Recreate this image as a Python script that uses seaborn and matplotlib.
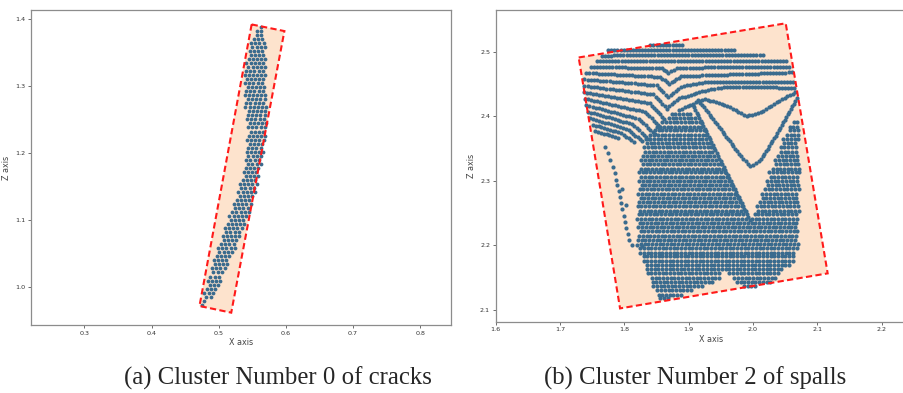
import numpy as np
import pandas as pd
import seaborn as sns
import matplotlib.pyplot as plt
from matplotlib.patches import Polygon

# ---------------- data ----------------

# crack cluster 0: scan rows as (z, x from, x to)
crack_rows = [
    (0.974, 0.475, 0.481), (0.980, 0.476, 0.484), (0.986, 0.477, 0.490), (0.992, 0.478, 0.494),
    (0.998, 0.479, 0.498), (1.004, 0.481, 0.500), (1.010, 0.482, 0.503), (1.016, 0.484, 0.506),
    (1.022, 0.486, 0.508), (1.028, 0.488, 0.511), (1.034, 0.490, 0.513), (1.040, 0.492, 0.516),
    (1.046, 0.494, 0.519), (1.052, 0.496, 0.521), (1.058, 0.498, 0.524), (1.064, 0.500, 0.526),
    (1.070, 0.502, 0.529), (1.076, 0.504, 0.531), (1.082, 0.507, 0.534), (1.088, 0.509, 0.536),
    (1.094, 0.511, 0.539), (1.100, 0.513, 0.541), (1.106, 0.515, 0.543), (1.112, 0.517, 0.545),
    (1.118, 0.519, 0.547), (1.124, 0.521, 0.549), (1.130, 0.523, 0.551), (1.136, 0.525, 0.553),
    (1.142, 0.527, 0.555), (1.148, 0.529, 0.557), (1.154, 0.531, 0.558), (1.160, 0.533, 0.560),
    (1.166, 0.535, 0.561), (1.172, 0.536, 0.562), (1.178, 0.537, 0.563), (1.184, 0.538, 0.564),
    (1.190, 0.539, 0.565), (1.196, 0.540, 0.566), (1.202, 0.541, 0.567), (1.208, 0.541, 0.568),
    (1.214, 0.541, 0.569), (1.220, 0.541, 0.570), (1.226, 0.541, 0.571), (1.232, 0.542, 0.572),
    (1.238, 0.542, 0.572), (1.244, 0.542, 0.572), (1.250, 0.542, 0.572), (1.256, 0.541, 0.572),
    (1.262, 0.540, 0.572), (1.268, 0.539, 0.572), (1.274, 0.538, 0.571), (1.280, 0.538, 0.571),
    (1.286, 0.537, 0.571), (1.292, 0.537, 0.571), (1.298, 0.537, 0.571), (1.304, 0.537, 0.570),
    (1.310, 0.537, 0.570), (1.316, 0.538, 0.570), (1.322, 0.538, 0.570), (1.328, 0.539, 0.570),
    (1.334, 0.540, 0.570), (1.340, 0.541, 0.570), (1.346, 0.542, 0.570), (1.352, 0.544, 0.569),
    (1.358, 0.546, 0.569), (1.364, 0.548, 0.568), (1.370, 0.550, 0.568), (1.376, 0.552, 0.567),
    (1.382, 0.556, 0.566), (1.388, 0.560, 0.564),
]
crack_box = [(0.549, 1.3915), (0.5978, 1.3816), (0.5186, 0.9622), (0.4713, 0.9721)]

# spall cluster 2: visible scan curves (x, z vertices)
spall_lines = [
    [(1.840, 2.510), (1.890, 2.510)],
    [(1.775, 2.502), (1.970, 2.503)],
    [(1.765, 2.494), (2.015, 2.495)],
    [(1.757, 2.486), (2.052, 2.485)],
    [(1.748, 2.477), (1.858, 2.474), (1.868, 2.467), (1.882, 2.475), (2.056, 2.477)],
    [(1.741, 2.467), (1.855, 2.461), (1.870, 2.450), (1.888, 2.462), (2.060, 2.468)],
    [(1.738, 2.457), (1.850, 2.448), (1.868, 2.430), (1.888, 2.446), (1.925, 2.453), (2.062, 2.453)],
    [(1.738, 2.447), (1.845, 2.434), (1.866, 2.412), (1.885, 2.428), (1.930, 2.441), (1.960, 2.446), (2.064, 2.444)],
    [(1.738, 2.437), (1.840, 2.420), (1.862, 2.396)],
    [(1.885, 2.410), (1.925, 2.427), (1.960, 2.416), (1.990, 2.400), (2.012, 2.406), (2.045, 2.427), (2.066, 2.437)],
    [(1.739, 2.427), (1.832, 2.407), (1.856, 2.383)],
    [(1.915, 2.425), (1.950, 2.380), (1.975, 2.346), (1.995, 2.323), (2.010, 2.330), (2.040, 2.378), (2.068, 2.428)],
    [(1.741, 2.417), (1.822, 2.396), (1.848, 2.372)],
    [(1.906, 2.418), (1.935, 2.360), (1.965, 2.300), (1.995, 2.240)],
    [(1.744, 2.407), (1.812, 2.388), (1.838, 2.365)],
    [(1.747, 2.397), (1.803, 2.381), (1.828, 2.362)],
    [(1.751, 2.387), (1.795, 2.374), (1.815, 2.360)],
    [(1.755, 2.377), (1.790, 2.367)],
]
# isolated points along the left strip
spall_loose_x = [1.770, 1.774, 1.778, 1.782, 1.785, 1.787, 1.789, 1.791, 1.793, 1.795, 1.797,
                 1.799, 1.801, 1.803, 1.805, 1.807, 1.812, 1.820, 1.828, 1.796, 1.802]
spall_loose_z = [2.352, 2.343, 2.333, 2.322, 2.312, 2.302, 2.293, 2.284, 2.275, 2.265, 2.256,
                 2.246, 2.237, 2.227, 2.218, 2.209, 2.200, 2.200, 2.199, 2.288, 2.262]
# dense part: rows as (z, [(x from, x to), ...])
spall_rows = [
    (2.118, [(1.856, 1.872)]), (2.124, [(1.851, 1.888)]), (2.131, [(1.847, 1.905)]),
    (2.137, [(1.844, 1.922), (1.985, 2.008)]), (2.144, [(1.841, 1.940), (1.972, 2.028)]),
    (2.150, [(1.838, 1.950), (1.966, 2.036)]), (2.157, [(1.835, 1.948), (1.962, 2.042)]),
    (2.163, [(1.832, 2.050)]), (2.170, [(1.830, 2.058)]), (2.176, [(1.828, 2.063)]),
    (2.183, [(1.826, 2.066)]), (2.189, [(1.824, 2.068)]), (2.196, [(1.822, 2.069)]),
    (2.202, [(1.821, 2.070)]), (2.209, [(1.820, 2.070)]), (2.215, [(1.820, 2.070)]),
    (2.222, [(1.820, 2.070)]), (2.228, [(1.820, 2.071)]), (2.235, [(1.820, 2.071)]),
    (2.241, [(1.820, 1.993), (1.998, 2.071)]), (2.248, [(1.820, 1.990), (2.000, 2.071)]),
    (2.254, [(1.820, 1.987), (2.003, 2.072)]), (2.261, [(1.820, 1.984), (2.005, 2.072)]),
    (2.267, [(1.820, 1.981), (2.008, 2.072)]), (2.274, [(1.820, 1.978), (2.010, 2.072)]),
    (2.280, [(1.820, 1.974), (2.013, 2.072)]), (2.287, [(1.820, 1.971), (2.015, 2.072)]),
    (2.293, [(1.821, 1.968), (2.018, 2.072)]), (2.300, [(1.821, 1.965), (2.020, 2.072)]),
    (2.306, [(1.822, 1.962), (2.023, 2.072)]), (2.313, [(1.822, 1.958), (2.025, 2.072)]),
    (2.319, [(1.823, 1.955), (2.028, 2.072)]), (2.326, [(1.824, 1.952), (2.031, 2.072)]),
    (2.332, [(1.825, 1.948), (2.033, 2.072)]), (2.339, [(1.826, 1.945), (2.036, 2.072)]),
    (2.345, [(1.827, 1.942), (2.038, 2.071)]), (2.352, [(1.829, 1.938), (2.041, 2.071)]),
    (2.358, [(1.831, 1.935), (2.044, 2.071)]), (2.365, [(1.834, 1.932), (2.047, 2.071)]),
    (2.371, [(1.838, 1.928), (2.050, 2.070)]), (2.378, [(1.843, 1.925), (2.053, 2.070)]),
    (2.384, [(1.849, 1.922), (2.056, 2.070)]), (2.391, [(1.856, 1.918), (2.060, 2.070)]),
    (2.397, [(1.864, 1.914)]), (2.404, [(1.872, 1.908)]),
]
spall_box = [(1.729, 2.491), (2.0508, 2.5439), (2.116, 2.1568), (1.7933, 2.1026)]

captions = ["(a) Cluster Number 0 of cracks", "(b) Cluster Number 2 of spalls"]


# ---------------- turn the read scan rows into dots ----------------
def dots_on_line(pts, step):
    xs, zs = [], []
    for (x0, z0), (x1, z1) in zip(pts[:-1], pts[1:]):
        n = max(int(round(np.hypot(x1 - x0, z1 - z0) / step)), 1)
        for k in range(n):
            t = k / n
            xs.append(x0 + t * (x1 - x0))
            zs.append(z0 + t * (z1 - z0))
    xs.append(pts[-1][0])
    zs.append(pts[-1][1])
    return xs, zs


def dots_on_rows(rows, step):
    xs, zs = [], []
    for i, (z, segs) in enumerate(rows):
        off = (i * 0.37 % 1.0) * step  # shift rows so the dots don't line up in columns
        for x0, x1 in segs:
            for x in np.arange(x0 + off, x1 + 1e-9, step):
                xs.append(x)
                zs.append(z)
    return xs, zs


cx, cz = dots_on_rows([(z, [(a, b)]) for z, a, b in crack_rows], 0.0062)
crackDf = pd.DataFrame({"x": cx, "z": cz})

sx, sz = [], []
for line in spall_lines:
    lx, lz = dots_on_line(line, 0.0048)
    sx += lx
    sz += lz
rx, rz = dots_on_rows(spall_rows, 0.0058)
sx += rx + spall_loose_x
sz += rz + spall_loose_z
spallDf = pd.DataFrame({"x": sx, "z": sz})

# ---------------- plot ----------------
sns.set_style("white")
plt.rcParams.update({
    "axes.edgecolor": "#8c8c8c",
    "axes.linewidth": 0.9,
    "xtick.color": "#555555",
    "ytick.color": "#555555",
    "xtick.labelcolor": "#333333",
    "ytick.labelcolor": "#333333",
    "xtick.bottom": True,
    "ytick.left": True,
    "xtick.major.size": 2,
    "ytick.major.size": 2,
    "xtick.major.width": 0.6,
    "ytick.major.width": 0.6,
    "xtick.major.pad": 2,
    "ytick.major.pad": 2,
})
plt.rcParams["font.family"] = ["DejaVu Sans"]

pointColour = "#3a6b8e"
fillColour = "#fde3cd"

fig = plt.figure(figsize=(9.04, 3.93), dpi=100)
ax1 = fig.add_axes([31 / 904, 68 / 393, 420 / 904, 315 / 393])
ax2 = fig.add_axes([495.7 / 904, 71.3 / 393, 430 / 904, 311.7 / 393])

panels = [
    (ax1, crackDf, crack_box, (0.2203, 0.846), (0.9438, 1.413), 7.5,
     [0.3, 0.4, 0.5, 0.6, 0.7, 0.8], [1.0, 1.1, 1.2, 1.3, 1.4]),
    (ax2, spallDf, spall_box, (1.6, 2.2684), (2.082, 2.5645), 9,
     [1.6, 1.7, 1.8, 1.9, 2.0, 2.1, 2.2], [2.1, 2.2, 2.3, 2.4, 2.5]),
]

for ax, df, box, xlim, ylim, size, xt, yt in panels:
    ax.add_patch(Polygon(box, closed=True, facecolor=fillColour, edgecolor="none", zorder=1))
    sns.scatterplot(data=df, x="x", y="z", ax=ax, s=size, color=pointColour,
                    linewidth=0, zorder=2, legend=False)
    ax.add_patch(Polygon(box, closed=True, facecolor="none", edgecolor="#ff1a1a",
                         linewidth=1.5, linestyle=(0, (3, 1.6)), zorder=3))
    ax.set_xlim(*xlim)
    ax.set_ylim(*ylim)
    ax.set_xticks(xt)
    ax.set_yticks(yt)
    ax.set_xticklabels([f"{v:.1f}" for v in xt])
    ax.set_yticklabels([f"{v:.1f}" for v in yt])
    ax.tick_params(labelsize=4.6)
    ax.set_xlabel("X axis", fontsize=5.8, color="#444444", labelpad=2)
    ax.set_ylabel("Z axis", fontsize=5.8, color="#444444", labelpad=3)

fig.text(278 / 904, 1 - 378 / 393, captions[0], ha="center", va="center",
         fontsize=17.8, family=["Liberation Serif", "DejaVu Serif"])
fig.text(695 / 904, 1 - 378 / 393, captions[1], ha="center", va="center",
         fontsize=17.8, family=["Liberation Serif", "DejaVu Serif"])

fig.savefig("out.png", dpi=100)
